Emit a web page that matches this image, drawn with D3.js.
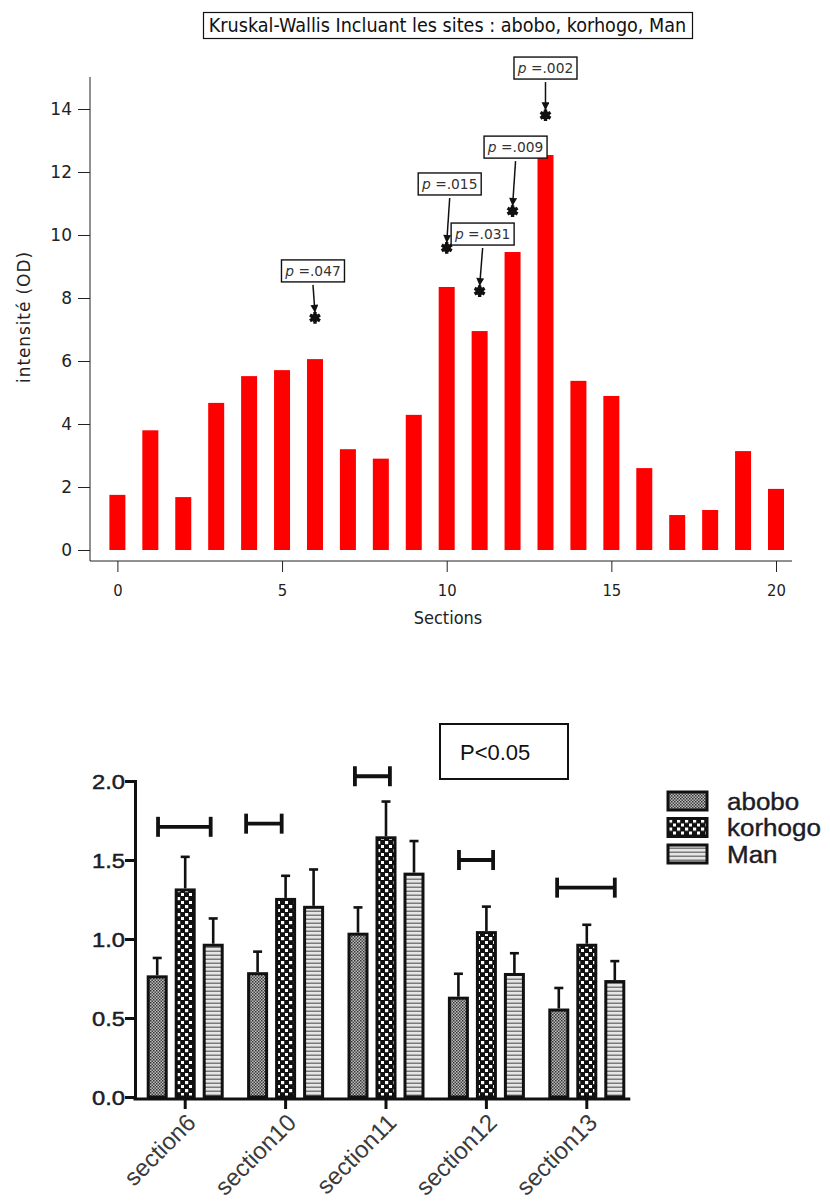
<!DOCTYPE html>
<html>
<head>
<meta charset="utf-8">
<script src="https://cdn.jsdelivr.net/npm/d3@7"></script>
<style>
  html, body { margin: 0; padding: 0; background: #fff; }
  svg { display: block; }
</style>
</head>
<body>
<svg id="chart" width="830" height="1202"></svg>
<script>
// ---------------- DATA ----------------
// Top chart (Kruskal-Wallis)
const topTitle = "Kruskal-Wallis Incluant les sites : abobo, korhogo, Man";
const topSections = [0,1,2,3,4,5,6,7,8,9,10,11,12,13,14,15,16,17,18,19,20];
const topValues = [1.75,3.80,1.68,4.67,5.52,5.71,6.06,3.20,2.90,4.29,8.35,6.95,9.46,12.54,5.37,4.89,2.60,1.11,1.27,3.14,1.94];
const topYTicks = [0,2,4,6,8,10,12,14];
const topXTicks = [0,5,10,15,20];
const topXLabel = "Sections";
const topYLabel = "intensité (OD)";
const annSections = [6,10,11,12,13];
const annMarkValues = [7.37,9.59,8.22,10.76,13.80];
const annLabelValues = [8.86,11.62,10.03,12.79,15.30];
const annTexts = ["=.047","=.015","=.031","=.009","=.002"];

// Bottom chart (grouped bars)
const groups = ["section6","section10","section11","section12","section13"];
const seriesNames = ["abobo","korhogo","Man"];
const aboboMean = [0.77,0.79,1.04,0.635,0.56];
const aboboErr  = [0.11,0.13,0.16,0.145,0.13];
const korhogoMean = [1.32,1.26,1.65,1.05,0.97];
const korhogoErr  = [0.20,0.14,0.22,0.155,0.12];
const manMean = [0.97,1.21,1.42,0.785,0.74];
const manErr  = [0.16,0.23,0.20,0.125,0.12];
const botYTicks = [0,0.5,1.0,1.5,2.0];
// significance brackets (ends expressed in series-index units within the group)
const bracketGroups = ["section6","section10","section11","section12","section13"];
const bracketFrom = [0.03,-0.41,-0.11,0.02,-0.06];
const bracketTo   = [1.91,0.86,1.14,1.24,2.00];
const bracketValue = [1.71,1.73,2.03,1.50,1.325];
const pBoxText = "P<0.05";

// ---------------- STYLE / LAYOUT ----------------
const svg = d3.select("#chart");
svg.append("rect").attr("width",830).attr("height",1202).attr("fill","#fff");
const ink = "#222";
const sansC = "'DejaVu Sans Condensed','DejaVu Sans',sans-serif";
const sans = "'DejaVu Sans',sans-serif";
const arial = "'Liberation Sans',Arial,sans-serif";
const defs = svg.append("defs");

// ===== TOP CHART =====
const xTop = d3.scaleLinear().domain([0,20]).range([117.4,776.0]);
const yTop = d3.scaleLinear().domain([0,14]).range([550,109]);
const topG = svg.append("g");

// title box
const titleG = topG.append("g");
titleG.append("rect")
  .attr("x",203.5).attr("y",12.5).attr("width",489).attr("height",26)
  .attr("fill","#fff").attr("stroke","#111").attr("stroke-width",1.2);
titleG.append("text")
  .attr("x",447.5).attr("y",31.5)
  .attr("text-anchor","middle")
  .attr("font-family",sansC).attr("font-size",19.6).attr("fill","#111")
  .text(topTitle);

// bars
const barW = 16;
topG.selectAll("rect.bar").data(topSections).join("rect")
  .attr("class","bar")
  .attr("x",d=>xTop(d)-barW/2)
  .attr("y",(d,i)=>yTop(topValues[i]))
  .attr("width",barW)
  .attr("height",(d,i)=>yTop(0)-yTop(topValues[i]))
  .attr("fill","#ff0000");

// axes
const yAxisTop = d3.axisLeft(yTop).tickValues(topYTicks).tickSize(12).tickPadding(6);
const gy = topG.append("g").attr("transform","translate(90,0)").call(yAxisTop);
gy.select(".domain").remove();
gy.append("line").attr("x1",0).attr("x2",0).attr("y1",77).attr("y2",561).attr("stroke",ink);
gy.selectAll(".tick line").attr("stroke",ink);
gy.selectAll(".tick text").attr("font-family",sans).attr("font-size",17).attr("fill",ink);

const xAxisTop = d3.axisBottom(xTop).tickValues(topXTicks).tickSize(11).tickPadding(12);
const gx = topG.append("g").attr("transform","translate(0,561)").call(xAxisTop);
gx.select(".domain").remove();
gx.append("line").attr("x1",90).attr("x2",792).attr("y1",0).attr("y2",0).attr("stroke",ink);
gx.selectAll(".tick line").attr("stroke",ink);
gx.selectAll(".tick text").attr("font-family",sansC).attr("font-size",16.5).attr("fill",ink);

topG.append("text").attr("x",448).attr("y",624).attr("text-anchor","middle")
  .attr("font-family",sansC).attr("font-size",18).attr("fill",ink).text(topXLabel);
topG.append("text").attr("transform","translate(30,317) rotate(-90)")
  .attr("text-anchor","middle").attr("font-family",sans).attr("font-size",17)
  .attr("letter-spacing",0.9).attr("fill",ink).text(topYLabel);

// annotations
defs.append("marker").attr("id","arrowhead").attr("viewBox","0 0 10 10")
  .attr("refX",10).attr("refY",5).attr("markerWidth",9).attr("markerHeight",8)
  .attr("orient","auto-start-reverse").attr("markerUnits","userSpaceOnUse")
  .append("path").attr("d","M0,0 L10,5 L0,10 z").attr("fill","#111");
const annDx = [-2,3,3,3,0];
const ann = topG.selectAll("g.ann").data(annSections).join("g").attr("class","ann");
ann.each(function(s,i){
  const g = d3.select(this);
  const mx = xTop(s), my = yTop(annMarkValues[i]);
  const bx = mx + annDx[i], by = yTop(annLabelValues[i]);
  const bw = 63, bh = 22;
  g.append("rect").attr("x",bx-bw/2).attr("y",by-bh/2).attr("width",bw).attr("height",bh)
    .attr("fill","#fff").attr("stroke","#111").attr("stroke-width",1.4);
  const t = g.append("text").attr("x",bx).attr("y",by+5).attr("text-anchor","middle")
    .attr("font-family",sans).attr("font-size",13.8).attr("fill","#333");
  t.append("tspan").attr("font-style","italic").text("p ");
  t.append("tspan").text(annTexts[i]);
  g.append("line").attr("x1",bx).attr("y1",by+bh/2+3).attr("x2",mx).attr("y2",my-5)
    .attr("stroke","#111").attr("stroke-width",1.5).attr("marker-end","url(#arrowhead)");
  g.append("path").attr("transform",`translate(${mx},${my})`)
    .attr("d",d3.symbol(d3.symbolAsterisk,95)())
    .attr("stroke","#111").attr("stroke-width",3.4).attr("fill","none");
  g.append("circle").attr("cx",mx).attr("cy",my).attr("r",4.2).attr("fill","#111");
});

// ===== BOTTOM CHART =====
const sx = 1.13; // horizontal stretch of the bottom figure's text
const botInk = "#1c1c28";
const xB = d3.scaleBand().domain(groups).range([135,637]).paddingInner(0).paddingOuter(0);
const xS = d3.scaleBand().domain(seriesNames).range([-42,42]).paddingInner(0.25).paddingOuter(0.125);
const xIdx = d3.scaleLinear().domain([0,2]).range([-28,28]);
const yB = d3.scaleLinear().domain([0,2]).range([1097,781]);
const bot = svg.append("g");

// patterns
const pA = defs.append("pattern").attr("id","pat-abobo").attr("patternUnits","userSpaceOnUse")
  .attr("width",3).attr("height",3);
pA.append("rect").attr("width",3).attr("height",3).attr("fill","#bdbdbd");
pA.append("rect").attr("x",0).attr("y",0).attr("width",1.5).attr("height",1.5).attr("fill","#333");
pA.append("rect").attr("x",1.5).attr("y",1.5).attr("width",1.5).attr("height",1.5).attr("fill","#444");

const pK = defs.append("pattern").attr("id","pat-korhogo").attr("patternUnits","userSpaceOnUse")
  .attr("width",8).attr("height",8);
pK.append("rect").attr("width",8).attr("height",8).attr("fill","#111");
pK.append("rect").attr("x",1).attr("y",1).attr("width",3.2).attr("height",3.2).attr("fill","#fff");
pK.append("rect").attr("x",5).attr("y",5).attr("width",3.2).attr("height",3.2).attr("fill","#fff");

const pM = defs.append("pattern").attr("id","pat-man").attr("patternUnits","userSpaceOnUse")
  .attr("width",4).attr("height",4);
pM.append("rect").attr("width",4).attr("height",4).attr("fill","#e6e6e6");
pM.append("rect").attr("y",2.5).attr("width",4).attr("height",1.5).attr("fill","#7a7a7a");

const fills = {abobo:"url(#pat-abobo)", korhogo:"url(#pat-korhogo)", Man:"url(#pat-man)"};
const means = {abobo:aboboMean, korhogo:korhogoMean, Man:manMean};
const errs = {abobo:aboboErr, korhogo:korhogoErr, Man:manErr};

const barData = [];
groups.forEach((g,gi)=>seriesNames.forEach(s=>barData.push({g,s,v:means[s][gi],e:errs[s][gi]})));

const bw2 = xS.bandwidth();
const cx = d => xB(d.g)+xB.bandwidth()/2+xS(d.s)+bw2/2;
// error bars
const eb = bot.selectAll("g.err").data(barData).join("g").attr("class","err");
eb.append("line")
  .attr("x1",cx).attr("x2",cx)
  .attr("y1",d=>yB(d.v)).attr("y2",d=>yB(d.v+d.e))
  .attr("stroke","#111").attr("stroke-width",2.6);
eb.append("line")
  .attr("x1",d=>cx(d)-4.5).attr("x2",d=>cx(d)+4.5)
  .attr("y1",d=>yB(d.v+d.e)).attr("y2",d=>yB(d.v+d.e))
  .attr("stroke","#111").attr("stroke-width",2.6);

bot.selectAll("rect.gbar").data(barData).join("rect").attr("class","gbar")
  .attr("x",d=>cx(d)-bw2/2+1.5)
  .attr("y",d=>yB(d.v)+1.5)
  .attr("width",bw2-3)
  .attr("height",d=>yB(0)-yB(d.v)-1.5)
  .attr("fill",d=>fills[d.s]).attr("stroke","#111").attr("stroke-width",3);

// brackets
const br = bot.selectAll("g.br").data(bracketGroups).join("g").attr("class","br");
br.each(function(gname,i){
  const c = xB(gname)+xB.bandwidth()/2;
  const x1 = c + xIdx(bracketFrom[i]), x2 = c + xIdx(bracketTo[i]), y = yB(bracketValue[i]);
  const g = d3.select(this);
  g.append("line").attr("x1",x1).attr("x2",x2).attr("y1",y).attr("y2",y).attr("stroke","#111").attr("stroke-width",3.8);
  g.append("line").attr("x1",x1).attr("x2",x1).attr("y1",y-10).attr("y2",y+10).attr("stroke","#111").attr("stroke-width",3.8);
  g.append("line").attr("x1",x2).attr("x2",x2).attr("y1",y-10).attr("y2",y+10).attr("stroke","#111").attr("stroke-width",3.8);
});

// axes
const gyB = bot.append("g").attr("transform","translate(135,0)")
  .call(d3.axisLeft(yB).tickValues(botYTicks).tickSize(10).tickFormat(d3.format(".1f")));
gyB.select(".domain").attr("stroke","#111").attr("stroke-width",3);
gyB.selectAll(".tick line").attr("stroke","#111").attr("stroke-width",3);
gyB.selectAll(".tick text").attr("x",0).attr("dy",null)
  .attr("transform",`translate(-10,7.5) scale(${sx},1)`)
  .attr("font-family",arial).attr("font-size",21).attr("fill",botInk)
  .attr("stroke",botInk).attr("stroke-width",0.5).attr("text-anchor","end");

const lastRight = xB(groups[groups.length-1])+xB.bandwidth()/2+xS("Man")+bw2+5;
const gxB = bot.append("g").attr("transform","translate(0,1099)")
  .call(d3.axisBottom(xB).tickSize(10).tickSizeOuter(0));
gxB.select(".domain").remove();
gxB.append("line").attr("x1",133.5).attr("x2",lastRight).attr("y1",0).attr("y2",0)
  .attr("stroke","#111").attr("stroke-width",3);
gxB.selectAll(".tick line").attr("stroke","#111").attr("stroke-width",3);
gxB.selectAll(".tick text").attr("y",null).attr("dy",null)
  .attr("transform",`translate(12,25) rotate(-45)`)
  .attr("text-anchor","end").attr("font-family",arial).attr("font-size",24).attr("fill","#3a3a3a");

// legend
const lg = bot.selectAll("g.lg").data(seriesNames).join("g").attr("class","lg")
  .attr("transform",(d,i)=>`translate(668,${792+i*26.5})`);
lg.append("rect").attr("x",0).attr("y",0).attr("width",39).attr("height",18)
  .attr("fill",d=>fills[d]).attr("stroke","#111").attr("stroke-width",3);
lg.append("text").attr("transform",`translate(59,17.5) scale(${sx},1)`)
  .attr("font-family",arial).attr("font-size",23).attr("fill",botInk)
  .attr("stroke",botInk).attr("stroke-width",0.4).text(d=>d);

// P<0.05 box
bot.append("rect").attr("x",440).attr("y",724).attr("width",128).attr("height",55)
  .attr("fill","#fff").attr("stroke","#111").attr("stroke-width",2);
bot.append("text").attr("x",460).attr("y",760).attr("font-family",arial).attr("font-size",22)
  .attr("fill","#111").text(pBoxText);
</script>
</body>
</html>
